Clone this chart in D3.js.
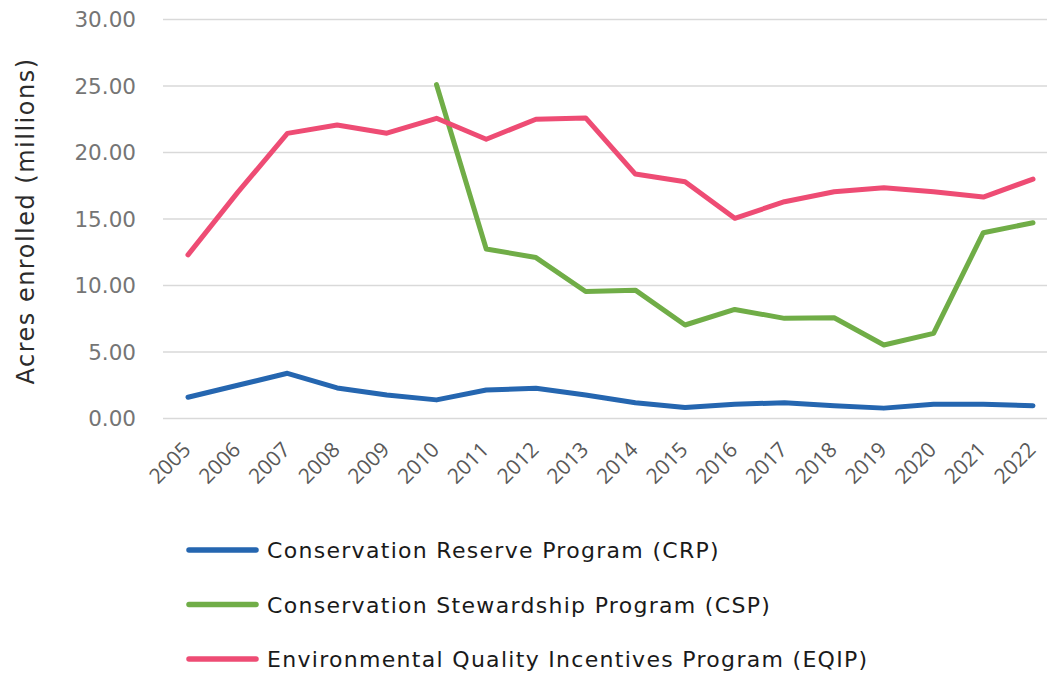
<!DOCTYPE html>
<html>
<head>
<meta charset="utf-8">
<script src="https://cdn.jsdelivr.net/npm/d3@7"></script>
<style>
  body { margin: 0; background: #fff; }
  svg { display: block; }
</style>
</head>
<body>
<svg id="chart" width="1047" height="675"></svg>
<script>
const years = [2005, 2006, 2007, 2008, 2009, 2010, 2011, 2012, 2013, 2014,
  2015, 2016, 2017, 2018, 2019, 2020, 2021, 2022];

const crp = [1.6, 2.5, 3.4, 2.3, 1.77, 1.4, 2.14, 2.27, 1.77, 1.19,
  0.82, 1.07, 1.19, 0.96, 0.78, 1.08, 1.08, 0.96];
const csp = [null, null, null, null, null, 25.1, 12.75, 12.1, 9.55, 9.65,
  7.03, 8.2, 7.53, 7.58, 5.53, 6.4, 13.97, 14.72];
const eqip = [12.3, 17.0, 21.44, 22.07, 21.45, 22.57, 21.0, 22.5, 22.6, 18.38,
  17.8, 15.05, 16.3, 17.05, 17.35, 17.05, 16.65, 18.0];

const yTicks = [0, 5, 10, 15, 20, 25, 30];

const seriesNames = [
  "Conservation Reserve Program (CRP)",
  "Conservation Stewardship Program (CSP)",
  "Environmental Quality Incentives Program (EQIP)",
];
const seriesColors = ["#2566b0", "#70ad47", "#ee4c74"];
const seriesValues = [crp, csp, eqip];

const svg = d3.select("#chart");

const x = d3.scalePoint().domain(years).range([188, 1033]);
const y = d3.scaleLinear().domain([0, 30]).range([418.5, 19.5]);

// gridlines
svg.append("g")
  .selectAll("line")
  .data(yTicks)
  .join("line")
  .attr("x1", 163)
  .attr("x2", 1047)
  .attr("y1", (d) => y(d))
  .attr("y2", (d) => y(d))
  .attr("stroke", "#d9d9d9")
  .attr("stroke-width", 1.5);

// y tick labels
svg.append("g")
  .selectAll("text")
  .data(yTicks)
  .join("text")
  .attr("x", 136)
  .attr("y", (d) => y(d) + 7.5)
  .attr("text-anchor", "end")
  .attr("font-family", "DejaVu Sans")
  .attr("font-size", 21.5)
  .attr("fill", "#757575")
  .text(d3.format(".2f"));

// y title
svg.append("text")
  .attr("transform", "translate(34, 221) rotate(-90)")
  .attr("text-anchor", "middle")
  .attr("font-family", "DejaVu Sans")
  .attr("font-size", 24)
  .attr("letter-spacing", 1.5)
  .attr("fill", "#2b2b2b")
  .text("Acres enrolled (millions)");

// x tick labels
svg.append("g")
  .selectAll("text")
  .data(years)
  .join("text")
  .attr("transform", (d) => `translate(${x(d) + 4}, ${451}) rotate(-45)`)
  .attr("text-anchor", "end")
  .attr("font-family", "Open Sans")
  .attr("font-size", 21)
  .attr("fill", "#595959")
  .text((d) => d);

// lines
const line = d3.line()
  .defined((d) => d[1] != null)
  .x((d) => x(d[0]))
  .y((d) => y(d[1]));

svg.append("g")
  .selectAll("path")
  .data(seriesValues)
  .join("path")
  .attr("d", (vals) => line(years.map((yr, i) => [yr, vals[i]])))
  .attr("fill", "none")
  .attr("stroke", (d, i) => seriesColors[i])
  .attr("stroke-width", 5)
  .attr("stroke-linejoin", "round")
  .attr("stroke-linecap", "round");

// legend
const legend = svg.append("g")
  .selectAll("g")
  .data(seriesNames)
  .join("g")
  .attr("transform", (d, i) => `translate(0, ${550 + i * 54.5})`);

legend.append("line")
  .attr("x1", 189)
  .attr("x2", 256)
  .attr("stroke", (d, i) => seriesColors[i])
  .attr("stroke-width", 5.5)
  .attr("stroke-linecap", "round");

legend.append("text")
  .attr("x", 267)
  .attr("y", 8)
  .attr("font-family", "DejaVu Sans")
  .attr("font-size", 22)
  .attr("letter-spacing", 1.3)
  .attr("fill", "#1a1a1a")
  .text((d) => d);
</script>
</body>
</html>
